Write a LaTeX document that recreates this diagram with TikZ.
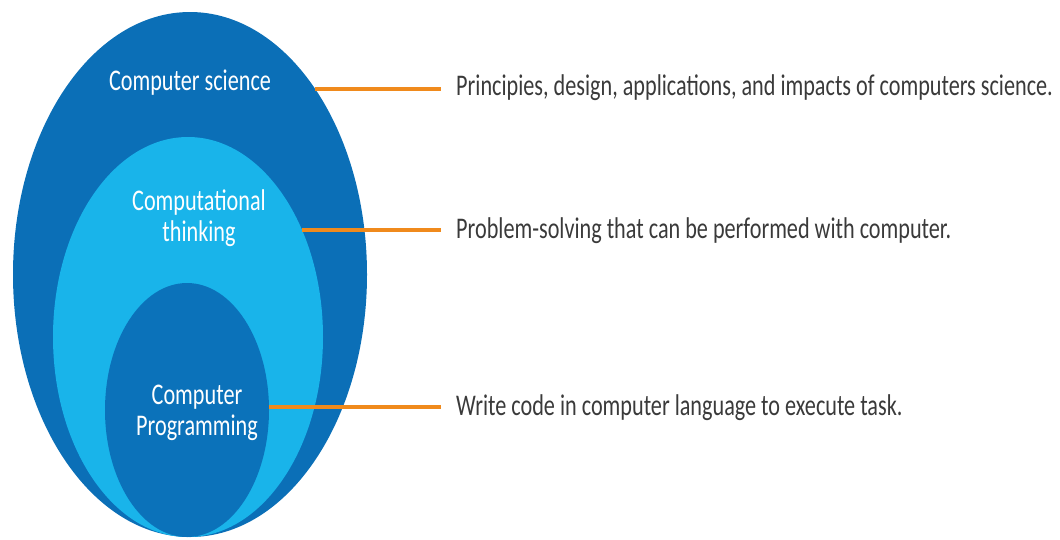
\documentclass[tikz,border=0pt]{standalone}
\usepackage{fontspec}
\setmainfont{Carlito}
\newfontfamily\slimfont[FakeStretch=0.74]{Carlito}
\usetikzlibrary{shapes.geometric}

\definecolor{csblue}{HTML}{0B6FB7}
\definecolor{ctblue}{HTML}{19B4EA}
\definecolor{cpblue}{HTML}{0B72BA}
\definecolor{linkorange}{HTML}{F08A1C}
\definecolor{descgray}{HTML}{3A3A3A}

\begin{document}
\begin{tikzpicture}[x=1pt, y=-1pt]
\tikzset{area/.style = {shape=ellipse, inner sep=0pt, outer sep=0pt}}
\tikzset{title/.style = {text=white, align=center, font=\slimfont\fontsize{30}{31}\selectfont}}
\tikzset{desc/.style = {text=descgray, anchor=base west, inner xsep=15pt, font=\slimfont\fontsize{30}{31}\selectfont}}
\tikzset{link/.style = {draw=linkorange, line width=4pt}}
\useasboundingbox (0,0) rectangle (1060,539);
% nested areas
\node[area, fill=csblue, minimum width=354pt, minimum height=525pt](cs) at (190,274.5) {};
\node[area, fill=ctblue, minimum width=270pt, minimum height=400pt](ct) at (188,337) {};
\node[area, fill=cpblue, minimum width=164pt, minimum height=254pt](cp) at (187,410) {};
% titles
\node[title](cstitle) at (190,83) {Computer science};
\node[title](cttitle) at (199,218) {Computational\\thinking};
\node[title](cptitle) at (197,413) {Computer\\Programming};
% descriptions
\node[desc](d1) at (441,95) {Principies, design, applications, and impacts of computers science.};
\node[desc](d2) at (441,238) {Problem-solving that can be performed with computer.};
\node[desc](d3) at (441,415) {Write code in computer language to execute task.};
\draw[link] (cs.56.5) -- (cs.56.5 -| d1.west);
\draw[link] (ct.43.2) -- (ct.43.2 -| d2.west);
\draw[link] (cp.2) -- (cp.2 -| d3.west);
\end{tikzpicture}
\end{document}
